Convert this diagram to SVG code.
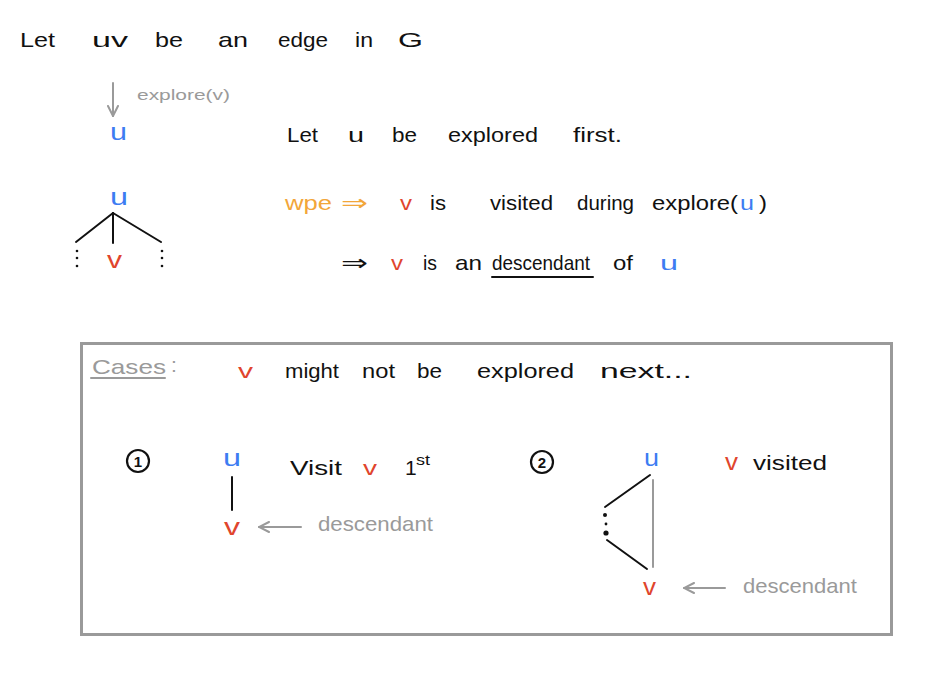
<svg xmlns="http://www.w3.org/2000/svg" width="928" height="673" viewBox="0 0 928 673">
<style>
text{font-family:"Liberation Sans","DejaVu Sans",sans-serif;font-size:21px;fill:#111}
.b{fill:#3d7cf2}.r{fill:#e0452d}.o{fill:#f2a63a}.g{fill:#9a9a9a}
.sm{font-size:15px}
.big{font-size:24px}
.ln{stroke:#111;stroke-width:2;fill:none;stroke-linecap:round}
.gl{stroke:#9a9a9a;stroke-width:2;fill:none;stroke-linecap:round}
</style>
<defs>
<marker id="ah" viewBox="0 0 12 12" refX="11" refY="6" markerWidth="12" markerHeight="12" markerUnits="userSpaceOnUse" orient="auto">
<path d="M1,1 L11,6 L1,11" fill="none" stroke="#9a9a9a" stroke-width="2" stroke-linecap="round"/>
</marker>
</defs>
<rect width="928" height="673" fill="#fff"/>

<g id="title">
<text x="20" y="47" textLength="35" lengthAdjust="spacingAndGlyphs">Let</text>
<text x="92" y="47" textLength="36" lengthAdjust="spacingAndGlyphs">uv</text>
<text x="155" y="47" textLength="28" lengthAdjust="spacingAndGlyphs">be</text>
<text x="218" y="47" textLength="30" lengthAdjust="spacingAndGlyphs">an</text>
<text x="278" y="47" textLength="50" lengthAdjust="spacingAndGlyphs">edge</text>
<text x="355" y="47" textLength="18" lengthAdjust="spacingAndGlyphs">in</text>
<text x="398" y="47" textLength="25" lengthAdjust="spacingAndGlyphs">G</text>
</g>

<g id="explore-u">
<text class="g sm" x="137" y="100" textLength="93" lengthAdjust="spacingAndGlyphs">explore(v)</text>
<text class="b big" x="110" y="140" textLength="17" lengthAdjust="spacingAndGlyphs">u</text>
</g>

<g id="tree">
<text class="b big" x="110" y="205" textLength="18" lengthAdjust="spacingAndGlyphs">u</text>
<text class="r big" x="107" y="268" textLength="15" lengthAdjust="spacingAndGlyphs">v</text>
<g fill="#111">
<circle cx="77" cy="251" r="1.3"/><circle cx="77" cy="258" r="1.3"/><circle cx="77" cy="266" r="1.3"/>
<circle cx="162" cy="251" r="1.3"/><circle cx="162" cy="258" r="1.3"/><circle cx="162" cy="266" r="1.3"/>
</g>
</g>

<g id="statement">
<text x="287" y="142" textLength="31" lengthAdjust="spacingAndGlyphs">Let</text>
<text x="348" y="142" textLength="16" lengthAdjust="spacingAndGlyphs">u</text>
<text x="392" y="142" textLength="25" lengthAdjust="spacingAndGlyphs">be</text>
<text x="448" y="142" textLength="90" lengthAdjust="spacingAndGlyphs">explored</text>
<text x="573" y="142" textLength="49" lengthAdjust="spacingAndGlyphs">first.</text>

<text class="o" x="285" y="210" textLength="47" lengthAdjust="spacingAndGlyphs">wpe</text>
<text class="o" x="341" y="210" textLength="27" lengthAdjust="spacingAndGlyphs">⇒</text>
<text class="r" x="400" y="210" textLength="12" lengthAdjust="spacingAndGlyphs">v</text>
<text x="430" y="210" textLength="16" lengthAdjust="spacingAndGlyphs">is</text>
<text x="490" y="210" textLength="63" lengthAdjust="spacingAndGlyphs">visited</text>
<text x="577" y="210" textLength="57" lengthAdjust="spacingAndGlyphs">during</text>
<text x="652" y="210" textLength="86" lengthAdjust="spacingAndGlyphs">explore(</text>
<text class="b" x="740" y="210" textLength="14" lengthAdjust="spacingAndGlyphs">u</text>
<text x="759" y="210" textLength="8" lengthAdjust="spacingAndGlyphs">)</text>

<text x="341" y="270" textLength="27" lengthAdjust="spacingAndGlyphs">⇒</text>
<text class="r" x="391" y="270" textLength="12" lengthAdjust="spacingAndGlyphs">v</text>
<text x="423" y="270" textLength="14" lengthAdjust="spacingAndGlyphs">is</text>
<text x="455" y="270" textLength="27" lengthAdjust="spacingAndGlyphs">an</text>
<text x="492" y="270" textLength="98" lengthAdjust="spacingAndGlyphs">descendant</text>
<line class="ln" x1="492" y1="277" x2="593" y2="277"/>
<text x="613" y="270" textLength="20" lengthAdjust="spacingAndGlyphs">of</text>
<text class="b" x="660" y="270" textLength="18" lengthAdjust="spacingAndGlyphs">u</text>
</g>

<g id="cases-box">
<rect x="81.5" y="343.5" width="810" height="291" fill="none" stroke="#9a9a9a" stroke-width="3"/>
<text class="g" x="92" y="374" textLength="74" lengthAdjust="spacingAndGlyphs">Cases</text>
<text class="g" x="171" y="372">:</text>
<line class="gl" x1="91" y1="378" x2="165" y2="378" stroke-width="2.5"/>
<text class="r" x="238" y="378" textLength="15" lengthAdjust="spacingAndGlyphs">v</text>
<text x="285" y="378" textLength="54" lengthAdjust="spacingAndGlyphs">might</text>
<text x="362" y="378" textLength="33" lengthAdjust="spacingAndGlyphs">not</text>
<text x="417" y="378" textLength="25" lengthAdjust="spacingAndGlyphs">be</text>
<text x="477" y="378" textLength="97" lengthAdjust="spacingAndGlyphs">explored</text>
<text x="600" y="378" textLength="92" lengthAdjust="spacingAndGlyphs">next...</text>
</g>

<g id="case1">
<circle cx="138" cy="461" r="11" fill="none" stroke="#111" stroke-width="2.2"/>
<text x="138" y="467" text-anchor="middle" style="font-size:15px;font-weight:bold">1</text>
<text class="b big" x="223" y="466" textLength="18" lengthAdjust="spacingAndGlyphs">u</text>
<text class="r big" x="224" y="535" textLength="16" lengthAdjust="spacingAndGlyphs">v</text>
<text x="290" y="475" textLength="52" lengthAdjust="spacingAndGlyphs">Visit</text>
<text class="r" x="363" y="475" textLength="14" lengthAdjust="spacingAndGlyphs">v</text>
<text x="405" y="475">1</text>
<text x="416" y="465" style="font-size:15px" textLength="14" lengthAdjust="spacingAndGlyphs">st</text>
<text class="g" x="318" y="531" textLength="115" lengthAdjust="spacingAndGlyphs">descendant</text>
</g>

<g id="case2">
<circle cx="542" cy="462" r="11" fill="none" stroke="#111" stroke-width="2.2"/>
<text x="542" y="468" text-anchor="middle" style="font-size:15px;font-weight:bold">2</text>
<text class="b big" x="644" y="466" textLength="15" lengthAdjust="spacingAndGlyphs">u</text>
<text class="r big" x="643" y="595" textLength="13" lengthAdjust="spacingAndGlyphs">v</text>
<text class="r big" x="725" y="470" textLength="13" lengthAdjust="spacingAndGlyphs">v</text>
<text x="753" y="470" textLength="74" lengthAdjust="spacingAndGlyphs">visited</text>
<text class="g" x="743" y="593" textLength="114" lengthAdjust="spacingAndGlyphs">descendant</text>
<g fill="#111">
<circle cx="605" cy="515" r="2"/><circle cx="606" cy="524" r="1.4"/><circle cx="606" cy="533" r="2.6"/>
</g>
</g>

<g id="connectors">
<line class="gl" x1="113" y1="83" x2="113" y2="116" marker-end="url(#ah)"/>
<line class="ln" x1="113" y1="213" x2="76" y2="242"/>
<line class="ln" x1="113" y1="213" x2="113" y2="243"/>
<line class="ln" x1="113" y1="213" x2="161" y2="242"/>
<line class="ln" x1="232" y1="477" x2="232" y2="510"/>
<line class="gl" x1="301" y1="527" x2="259" y2="527" marker-end="url(#ah)"/>
<line class="ln" x1="650" y1="475" x2="605" y2="507"/>
<line class="ln" x1="607" y1="540" x2="647" y2="569"/>
<line class="gl" x1="653" y1="480" x2="653" y2="567"/>
<line class="gl" x1="725" y1="588" x2="684" y2="588" marker-end="url(#ah)"/>
</g>
</svg>
